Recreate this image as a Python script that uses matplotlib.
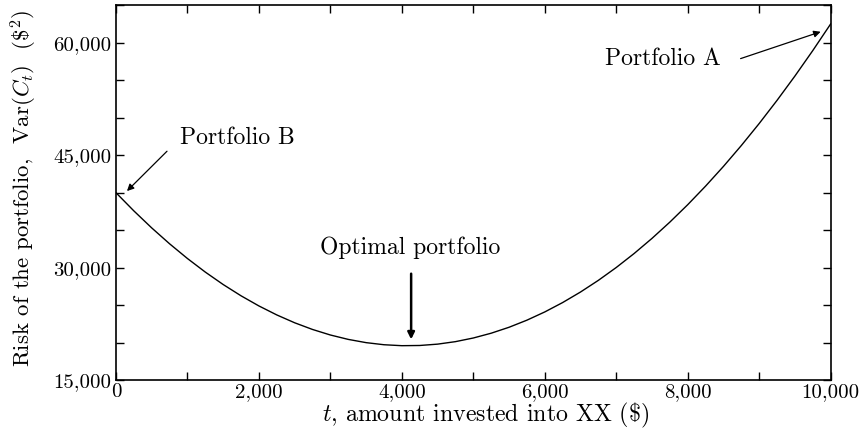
import matplotlib.pyplot as plt
from matplotlib.ticker import FuncFormatter, MultipleLocator

plt.rcParams['font.family'] = 'cmr10'
plt.rcParams['mathtext.fontset'] = 'cm'
plt.rcParams['axes.formatter.use_mathtext'] = True

# Data: amount invested t ($) and the variance of the portfolio ($^2)
t = [0, 250, 500, 750, 1000, 1250, 1500, 1750, 2000, 2250, 2500, 2750, 3000, 3250,
     3500, 3750, 4000, 4250, 4500, 4750, 5000, 5250, 5500, 5750, 6000, 6250, 6500,
     6750, 7000, 7250, 7500, 7750, 8000, 8250, 8500, 8750, 9000, 9250, 9500, 9750, 10000]
risk = [40000, 37577, 35306, 33189, 31225, 29414, 27756, 26252, 24900, 23702, 22656,
        21764, 21025, 20439, 20006, 19727, 19600, 19627, 19806, 20139, 20625, 21264,
        22056, 23002, 24100, 25352, 26756, 28314, 30025, 31889, 33906, 36077, 38400,
        40877, 43506, 46289, 49225, 52314, 55556, 58952, 62500]

fig = plt.figure(figsize=(8.59, 4.34), dpi=100)
ax = fig.add_axes([0.135, 0.124, 0.832, 0.864])

ax.plot(t, risk, color='black', linewidth=1.0)

ax.set_xlim(0, 10000)
ax.set_ylim(15000, 65000)
ax.xaxis.set_major_locator(MultipleLocator(2000))
ax.xaxis.set_minor_locator(MultipleLocator(1000))
ax.yaxis.set_major_locator(MultipleLocator(15000))
ax.yaxis.set_minor_locator(MultipleLocator(5000))
fmt = FuncFormatter(lambda v, pos: f'{v:,.0f}')
ax.xaxis.set_major_formatter(fmt)
ax.yaxis.set_major_formatter(fmt)
ax.tick_params(which='both', direction='in', top=True, right=True, length=6, width=1.0, labelsize=15)
ax.tick_params(axis='y', pad=3.5)
ax.tick_params(axis='x', pad=2)
for s in ax.spines.values():
    s.set_linewidth(1.2)

ax.set_xlabel(r'$t$, amount invested into XX (\$)', fontsize=17.2)
ax.set_ylabel(r'Risk of the portfolio,  Var$(C_t)$  (\$$^2$)', fontsize=16.5)
ax.xaxis.set_label_coords(0.517, -0.055)
ax.yaxis.set_label_coords(-0.107, 0.512)

# Annotations
arrow = dict(arrowstyle='-|>', color='black', lw=0.9, shrinkA=0, shrinkB=0)
ax.annotate('', xy=(9860, 61460), xytext=(8740, 57880), arrowprops=arrow)
ax.text(8460, 57080, 'Portfolio A', fontsize=17, ha='right', va='baseline')
ax.annotate('', xy=(154, 40220), xytext=(714, 45530), arrowprops=arrow)
ax.text(896, 46460, 'Portfolio B', fontsize=17, ha='left', va='baseline')
ax.annotate('', xy=(4130, 20440), xytext=(4130, 29200),
            arrowprops=dict(arrowstyle='-|>', color='black', lw=1.8, shrinkA=0, shrinkB=0))
ax.text(4110, 31860, 'Optimal portfolio', fontsize=17, ha='center', va='baseline')

plt.savefig('out.png')
